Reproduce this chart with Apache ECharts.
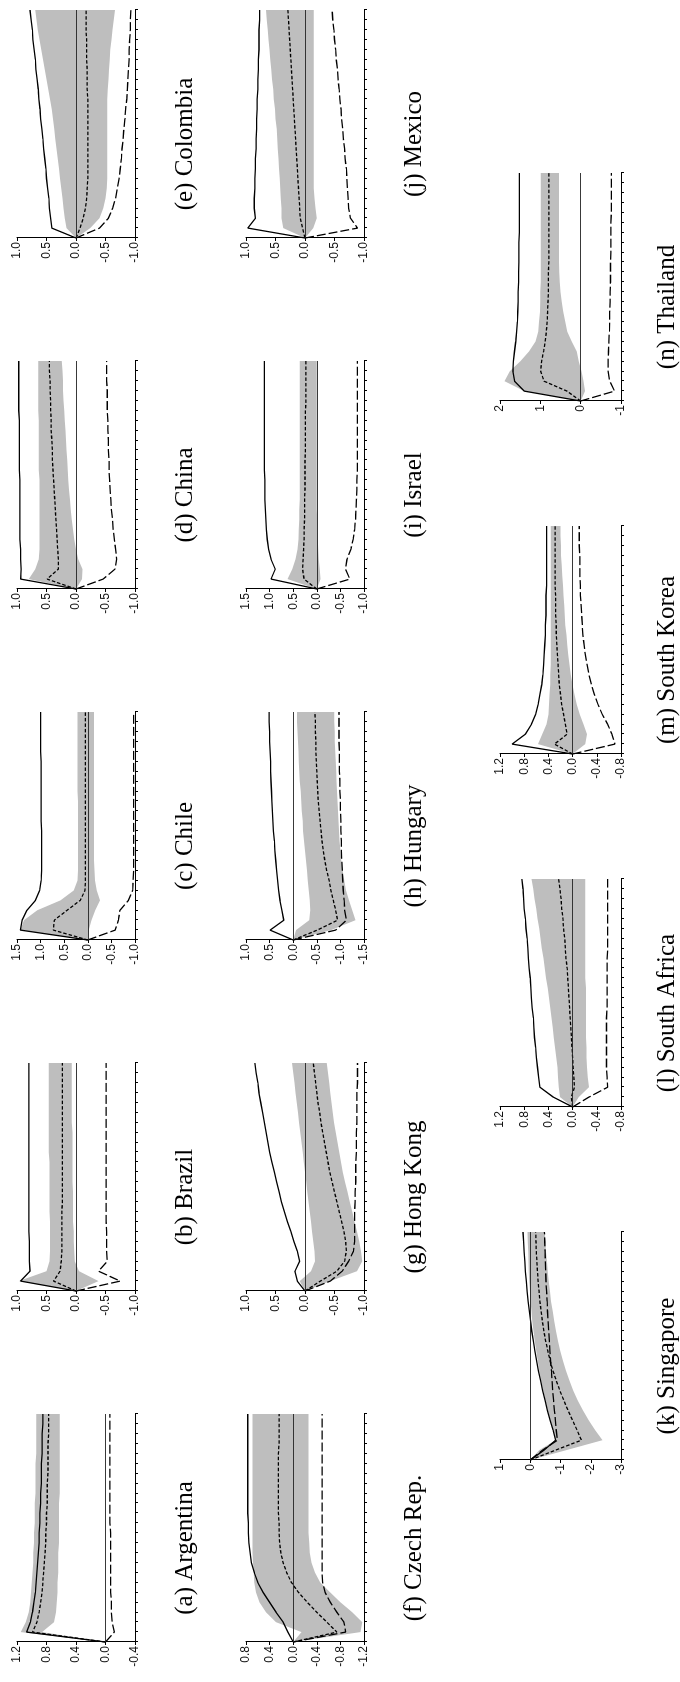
<!DOCTYPE html>
<html>
<head>
<meta charset="utf-8">
<script src="https://cdn.jsdelivr.net/npm/echarts@6/dist/echarts.min.js"></script>
<style>
  html, body { margin: 0; padding: 0; background: #fff; overflow: hidden; }
  /* the figure is drawn in landscape and turned a quarter to fit the page */
  #chart {
    position: absolute; left: 0; top: 0;
    width: 1682px; height: 680px;
    transform-origin: 0 0;
    transform: translate(0, 1682px) rotate(-90deg);
  }
</style>
</head>
<body>
<div id="chart"></div>
<script>
// horizon (quarters after the shock)
const horizon = [0, 1, 2, 3, 4, 5, 6, 7, 8, 9, 10, 11, 12, 13, 14, 15, 16, 17, 18, 19, 20, 21, 22, 23];

// (a) Argentina
const argentinaUpper  = [0, 1.07, 1.02, 0.99, 0.97, 0.95, 0.94, 0.93, 0.92, 0.91, 0.9, 0.9, 0.89, 0.89, 0.88, 0.88, 0.87, 0.87, 0.87, 0.86, 0.86, 0.86, 0.85, 0.85];
const argentinaMedian = [0, 0.99, 0.93, 0.9, 0.88, 0.86, 0.85, 0.84, 0.83, 0.82, 0.81, 0.81, 0.8, 0.8, 0.79, 0.79, 0.79, 0.78, 0.78, 0.78, 0.78, 0.77, 0.77, 0.77];
const argentinaLower  = [0, -0.12, -0.09, -0.08, -0.08, -0.07, -0.07, -0.07, -0.07, -0.07, -0.07, -0.07, -0.06, -0.06, -0.06, -0.06, -0.06, -0.06, -0.06, -0.06, -0.06, -0.06, -0.06, -0.06];
const argentinaBandHi = [0, 1.15, 1.08, 1.04, 1.02, 1.01, 1.0, 0.99, 0.98, 0.98, 0.97, 0.97, 0.96, 0.96, 0.96, 0.95, 0.95, 0.95, 0.95, 0.94, 0.94, 0.94, 0.94, 0.94];
const argentinaBandLo = [0, 0.86, 0.7, 0.67, 0.66, 0.65, 0.65, 0.64, 0.64, 0.64, 0.63, 0.63, 0.63, 0.63, 0.63, 0.62, 0.62, 0.62, 0.62, 0.62, 0.62, 0.62, 0.62, 0.62];

// (b) Brazil
const brazilUpper  = [0, 0.94, 0.78, 0.79, 0.79, 0.79, 0.8, 0.8, 0.8, 0.8, 0.8, 0.8, 0.8, 0.8, 0.8, 0.8, 0.8, 0.8, 0.8, 0.8, 0.8, 0.8, 0.8, 0.8];
const brazilMedian = [0, 0.38, 0.27, 0.25, 0.24, 0.24, 0.24, 0.24, 0.24, 0.23, 0.23, 0.23, 0.23, 0.23, 0.23, 0.23, 0.23, 0.23, 0.23, 0.23, 0.23, 0.23, 0.23, 0.23];
const brazilLower  = [0, -0.75, -0.38, -0.53, -0.52, -0.52, -0.52, -0.51, -0.51, -0.51, -0.51, -0.51, -0.51, -0.51, -0.51, -0.51, -0.51, -0.51, -0.51, -0.51, -0.51, -0.51, -0.51, -0.51];
const brazilBandHi = [0, 0.97, 0.5, 0.45, 0.44, 0.44, 0.44, 0.44, 0.45, 0.45, 0.45, 0.45, 0.45, 0.45, 0.46, 0.46, 0.46, 0.46, 0.46, 0.46, 0.46, 0.46, 0.46, 0.46];
const brazilBandLo = [0, -0.38, -0.05, 0.02, 0.03, 0.04, 0.04, 0.05, 0.05, 0.05, 0.05, 0.06, 0.06, 0.06, 0.06, 0.06, 0.06, 0.07, 0.07, 0.07, 0.07, 0.07, 0.07, 0.07];

// (c) Chile
const chileUpper  = [0, 1.43, 1.39, 1.29, 1.11, 1.02, 0.99, 0.98, 0.98, 0.98, 0.98, 0.98, 0.99, 0.99, 0.99, 0.99, 0.99, 0.99, 0.99, 1.0, 1.0, 1.0, 1.0, 1.0];
const chileMedian = [0, 0.73, 0.71, 0.44, 0.16, 0.06, 0.05, 0.05, 0.05, 0.05, 0.05, 0.05, 0.05, 0.05, 0.05, 0.05, 0.05, 0.05, 0.05, 0.05, 0.05, 0.05, 0.05, 0.05];
const chileLower  = [0, -0.58, -0.65, -0.68, -0.86, -0.95, -0.96, -0.97, -0.97, -0.97, -0.97, -0.97, -0.97, -0.97, -0.97, -0.97, -0.97, -0.97, -0.97, -0.97, -0.97, -0.97, -0.97, -0.97];
const chileBandHi = [0, 1.43, 1.35, 1.07, 0.58, 0.3, 0.22, 0.21, 0.21, 0.21, 0.21, 0.21, 0.21, 0.21, 0.21, 0.22, 0.22, 0.22, 0.22, 0.22, 0.22, 0.22, 0.22, 0.22];
const chileBandLo = [0, -0.02, -0.08, -0.16, -0.26, -0.19, -0.15, -0.14, -0.13, -0.13, -0.13, -0.13, -0.13, -0.13, -0.13, -0.13, -0.13, -0.13, -0.13, -0.13, -0.13, -0.13, -0.13, -0.13];

// (d) China
const chinaUpper  = [0, 0.94, 0.93, 0.94, 0.94, 0.95, 0.95, 0.95, 0.95, 0.95, 0.95, 0.95, 0.96, 0.96, 0.96, 0.96, 0.96, 0.96, 0.97, 0.97, 0.97, 0.97, 0.97, 0.97];
const chinaMedian = [0, 0.49, 0.3, 0.3, 0.31, 0.32, 0.33, 0.34, 0.35, 0.36, 0.37, 0.38, 0.39, 0.4, 0.4, 0.41, 0.42, 0.42, 0.43, 0.43, 0.44, 0.44, 0.45, 0.45];
const chinaLower  = [0, -0.46, -0.66, -0.69, -0.67, -0.65, -0.63, -0.62, -0.6, -0.59, -0.58, -0.57, -0.56, -0.56, -0.55, -0.55, -0.54, -0.54, -0.53, -0.53, -0.53, -0.52, -0.52, -0.52];
const chinaBandHi = [0, 0.8, 0.69, 0.63, 0.62, 0.62, 0.62, 0.62, 0.62, 0.62, 0.62, 0.62, 0.63, 0.63, 0.63, 0.63, 0.63, 0.63, 0.64, 0.64, 0.64, 0.64, 0.64, 0.64];
const chinaBandLo = [0, -0.1, -0.11, -0.04, 0, 0.03, 0.05, 0.07, 0.09, 0.1, 0.12, 0.13, 0.14, 0.15, 0.16, 0.17, 0.18, 0.19, 0.2, 0.21, 0.22, 0.22, 0.23, 0.24];

// (e) Colombia
const colombiaUpper  = [0, 0.41, 0.43, 0.45, 0.46, 0.48, 0.5, 0.51, 0.53, 0.55, 0.56, 0.58, 0.6, 0.61, 0.63, 0.64, 0.66, 0.68, 0.69, 0.71, 0.73, 0.74, 0.76, 0.78];
const colombiaMedian = [0, -0.07, -0.12, -0.16, -0.18, -0.19, -0.2, -0.2, -0.2, -0.2, -0.2, -0.2, -0.2, -0.2, -0.2, -0.19, -0.19, -0.19, -0.18, -0.18, -0.18, -0.17, -0.17, -0.17];
const colombiaLower  = [0, -0.4, -0.55, -0.62, -0.67, -0.7, -0.73, -0.75, -0.77, -0.78, -0.8, -0.81, -0.83, -0.84, -0.86, -0.87, -0.88, -0.89, -0.9, -0.9, -0.91, -0.92, -0.92, -0.93];
const colombiaBandHi = [0, 0.16, 0.19, 0.21, 0.23, 0.25, 0.27, 0.29, 0.31, 0.33, 0.35, 0.37, 0.39, 0.41, 0.44, 0.47, 0.5, 0.53, 0.56, 0.59, 0.62, 0.65, 0.67, 0.69];
const colombiaBandLo = [0, -0.24, -0.4, -0.46, -0.5, -0.52, -0.53, -0.53, -0.53, -0.53, -0.53, -0.53, -0.53, -0.53, -0.53, -0.54, -0.55, -0.56, -0.57, -0.58, -0.6, -0.62, -0.64, -0.66];

// (f) Czech Rep.
const czechUpper  = [0, 0.09, 0.17, 0.29, 0.4, 0.51, 0.6, 0.66, 0.71, 0.73, 0.75, 0.76, 0.76, 0.77, 0.77, 0.77, 0.77, 0.77, 0.77, 0.77, 0.77, 0.77, 0.77, 0.77];
const czechMedian = [0, -0.74, -0.57, -0.4, -0.24, -0.09, 0.03, 0.11, 0.17, 0.21, 0.23, 0.24, 0.24, 0.25, 0.25, 0.25, 0.25, 0.25, 0.25, 0.25, 0.24, 0.24, 0.24, 0.24];
const czechLower  = [0, -0.89, -0.86, -0.74, -0.63, -0.54, -0.5, -0.49, -0.49, -0.49, -0.49, -0.49, -0.49, -0.49, -0.49, -0.49, -0.49, -0.49, -0.49, -0.49, -0.49, -0.49, -0.49, -0.49];
const czechBandHi = [0, -0.14, 0.29, 0.46, 0.57, 0.63, 0.66, 0.67, 0.68, 0.69, 0.69, 0.69, 0.69, 0.69, 0.69, 0.69, 0.69, 0.69, 0.69, 0.69, 0.69, 0.69, 0.69, 0.69];
const czechBandLo = [0, -1.14, -1.17, -1.0, -0.8, -0.63, -0.46, -0.37, -0.31, -0.28, -0.27, -0.26, -0.26, -0.26, -0.26, -0.26, -0.26, -0.26, -0.26, -0.26, -0.26, -0.26, -0.26, -0.26];

// (g) Hong Kong
const hongkongUpper  = [0, 0.13, 0.17, 0.09, 0.13, 0.19, 0.24, 0.3, 0.35, 0.4, 0.44, 0.48, 0.52, 0.56, 0.6, 0.63, 0.66, 0.69, 0.72, 0.75, 0.78, 0.8, 0.83, 0.85];
const hongkongMedian = [0, -0.26, -0.54, -0.67, -0.7, -0.69, -0.66, -0.62, -0.58, -0.54, -0.5, -0.46, -0.42, -0.39, -0.36, -0.33, -0.3, -0.27, -0.25, -0.22, -0.2, -0.18, -0.16, -0.14];
const hongkongLower  = [0, -0.43, -0.63, -0.74, -0.82, -0.84, -0.84, -0.84, -0.84, -0.85, -0.85, -0.86, -0.86, -0.86, -0.87, -0.87, -0.87, -0.88, -0.88, -0.88, -0.88, -0.89, -0.89, -0.89];
const hongkongBandHi = [0, 0.09, -0.1, -0.17, -0.16, -0.14, -0.12, -0.1, -0.08, -0.06, -0.04, -0.02, 0, 0.02, 0.04, 0.06, 0.08, 0.1, 0.12, 0.14, 0.16, 0.18, 0.2, 0.22];
const hongkongBandLo = [0, -0.43, -0.88, -0.97, -0.95, -0.92, -0.88, -0.84, -0.8, -0.76, -0.72, -0.68, -0.64, -0.61, -0.58, -0.55, -0.52, -0.49, -0.47, -0.45, -0.43, -0.41, -0.39, -0.37];

// (h) Hungary
const hungaryUpper  = [0, 0.49, 0.2, 0.24, 0.28, 0.31, 0.33, 0.35, 0.37, 0.39, 0.4, 0.42, 0.43, 0.44, 0.45, 0.46, 0.47, 0.48, 0.48, 0.49, 0.5, 0.5, 0.51, 0.51];
const hungaryMedian = [0, -0.51, -0.94, -0.9, -0.85, -0.8, -0.76, -0.71, -0.67, -0.64, -0.61, -0.59, -0.57, -0.55, -0.53, -0.52, -0.51, -0.5, -0.49, -0.48, -0.48, -0.47, -0.47, -0.46];
const hungaryLower  = [0, -0.9, -1.13, -1.09, -1.08, -1.06, -1.05, -1.04, -1.03, -1.02, -1.02, -1.01, -1.01, -1.0, -1.0, -0.99, -0.99, -0.98, -0.98, -0.98, -0.97, -0.97, -0.97, -0.97];
const hungaryBandHi = [0, -0.06, -0.34, -0.36, -0.35, -0.33, -0.31, -0.29, -0.27, -0.25, -0.23, -0.21, -0.2, -0.18, -0.17, -0.16, -0.14, -0.13, -0.12, -0.11, -0.1, -0.09, -0.08, -0.08];
const hungaryBandLo = [0, -0.8, -1.32, -1.25, -1.18, -1.12, -1.08, -1.05, -1.02, -1.0, -0.98, -0.97, -0.96, -0.95, -0.94, -0.93, -0.92, -0.91, -0.9, -0.89, -0.88, -0.88, -0.87, -0.87];

// (i) Israel
const israelUpper  = [0, 0.97, 0.88, 0.97, 1.02, 1.05, 1.07, 1.08, 1.09, 1.1, 1.1, 1.1, 1.11, 1.11, 1.11, 1.11, 1.11, 1.11, 1.11, 1.11, 1.11, 1.11, 1.11, 1.11];
const israelMedian = [0, 0.27, 0.3, 0.29, 0.28, 0.27, 0.27, 0.26, 0.26, 0.26, 0.25, 0.25, 0.25, 0.25, 0.24, 0.24, 0.24, 0.24, 0.24, 0.23, 0.23, 0.23, 0.23, 0.23];
const israelLower  = [0, -0.7, -0.61, -0.64, -0.72, -0.77, -0.8, -0.82, -0.83, -0.84, -0.85, -0.85, -0.86, -0.86, -0.86, -0.86, -0.86, -0.86, -0.86, -0.86, -0.86, -0.86, -0.86, -0.86];
const israelBandHi = [0, 0.62, 0.52, 0.45, 0.41, 0.39, 0.38, 0.37, 0.37, 0.36, 0.36, 0.36, 0.36, 0.36, 0.36, 0.36, 0.36, 0.36, 0.36, 0.36, 0.36, 0.36, 0.36, 0.36];
const israelBandLo = [0, -0.08, -0.06, -0.04, -0.03, -0.02, -0.01, -0.01, 0, 0, 0, 0, 0, 0, 0, 0, 0, 0, 0, 0, 0, 0, 0, 0];

// (j) Mexico
const mexicoUpper  = [0, 0.97, 0.84, 0.86, 0.86, 0.85, 0.85, 0.84, 0.84, 0.83, 0.83, 0.82, 0.82, 0.81, 0.81, 0.8, 0.8, 0.79, 0.79, 0.78, 0.78, 0.78, 0.77, 0.77];
const mexicoMedian = [0, 0.04, 0.08, 0.09, 0.1, 0.11, 0.12, 0.13, 0.14, 0.15, 0.16, 0.17, 0.18, 0.19, 0.2, 0.21, 0.22, 0.23, 0.24, 0.25, 0.26, 0.27, 0.28, 0.29];
const mexicoLower  = [0, -0.89, -0.77, -0.74, -0.73, -0.72, -0.71, -0.7, -0.68, -0.67, -0.65, -0.64, -0.62, -0.61, -0.59, -0.58, -0.56, -0.55, -0.53, -0.52, -0.5, -0.49, -0.47, -0.46];
const mexicoBandHi = [0, 0.37, 0.4, 0.4, 0.41, 0.42, 0.43, 0.44, 0.45, 0.46, 0.47, 0.48, 0.5, 0.51, 0.53, 0.54, 0.56, 0.57, 0.59, 0.6, 0.62, 0.63, 0.65, 0.66];
const mexicoBandLo = [0, -0.14, -0.2, -0.18, -0.16, -0.15, -0.15, -0.15, -0.15, -0.15, -0.15, -0.15, -0.15, -0.15, -0.15, -0.15, -0.15, -0.15, -0.15, -0.15, -0.15, -0.15, -0.15, -0.15];

// (k) Singapore
const singaporeUpper  = [0, -0.46, -0.84, -0.76, -0.66, -0.57, -0.49, -0.41, -0.34, -0.27, -0.21, -0.15, -0.1, -0.05, -0.01, 0.03, 0.07, 0.1, 0.13, 0.16, 0.18, 0.2, 0.22, 0.24];
const singaporeMedian = [0, -0.84, -1.69, -1.55, -1.4, -1.25, -1.11, -0.98, -0.86, -0.75, -0.66, -0.58, -0.51, -0.45, -0.4, -0.36, -0.32, -0.29, -0.26, -0.24, -0.22, -0.2, -0.19, -0.18];
const singaporeLower  = [0, -0.41, -0.9, -0.86, -0.83, -0.8, -0.77, -0.74, -0.72, -0.7, -0.67, -0.65, -0.63, -0.61, -0.59, -0.57, -0.56, -0.54, -0.52, -0.51, -0.5, -0.49, -0.48, -0.47];
const singaporeBandHi = [0, -0.3, -0.84, -0.77, -0.67, -0.58, -0.5, -0.43, -0.36, -0.3, -0.25, -0.2, -0.15, -0.11, -0.07, -0.04, -0.01, 0.01, 0.03, 0.05, 0.06, 0.07, 0.08, 0.09];
const singaporeBandLo = [0, -1.2, -2.39, -2.15, -1.93, -1.74, -1.57, -1.42, -1.3, -1.18, -1.08, -0.99, -0.92, -0.85, -0.79, -0.74, -0.69, -0.65, -0.61, -0.58, -0.55, -0.52, -0.5, -0.48];

// (l) South Africa
const southafricaUpper  = [0, 0.32, 0.54, 0.56, 0.58, 0.6, 0.61, 0.63, 0.64, 0.65, 0.67, 0.68, 0.69, 0.7, 0.72, 0.73, 0.74, 0.75, 0.77, 0.78, 0.8, 0.81, 0.82, 0.84];
const southafricaMedian = [0, 0.02, -0.03, -0.02, -0.01, 0.0, 0.01, 0.02, 0.03, 0.04, 0.05, 0.06, 0.07, 0.08, 0.09, 0.11, 0.12, 0.13, 0.15, 0.16, 0.18, 0.19, 0.21, 0.23];
const southafricaLower  = [0, -0.27, -0.58, -0.57, -0.56, -0.56, -0.56, -0.56, -0.56, -0.56, -0.57, -0.57, -0.57, -0.57, -0.57, -0.57, -0.58, -0.58, -0.58, -0.58, -0.58, -0.58, -0.58, -0.58];
const southafricaBandHi = [0, 0.21, 0.23, 0.24, 0.25, 0.27, 0.29, 0.31, 0.33, 0.35, 0.37, 0.39, 0.41, 0.44, 0.46, 0.48, 0.51, 0.53, 0.55, 0.58, 0.6, 0.63, 0.65, 0.68];
const southafricaBandLo = [0, -0.1, -0.27, -0.25, -0.24, -0.23, -0.23, -0.22, -0.22, -0.22, -0.22, -0.22, -0.22, -0.21, -0.21, -0.21, -0.21, -0.21, -0.21, -0.21, -0.21, -0.21, -0.21, -0.21];

// (m) South Korea
const southkoreaUpper  = [0, 1.0, 0.78, 0.68, 0.61, 0.57, 0.54, 0.51, 0.49, 0.48, 0.47, 0.46, 0.45, 0.45, 0.44, 0.44, 0.44, 0.43, 0.43, 0.43, 0.43, 0.43, 0.43, 0.43];
const southkoreaMedian = [0, 0.3, 0.09, 0.12, 0.15, 0.18, 0.2, 0.22, 0.23, 0.24, 0.25, 0.26, 0.27, 0.27, 0.28, 0.28, 0.28, 0.29, 0.29, 0.29, 0.29, 0.29, 0.29, 0.29];
const southkoreaLower  = [0, -0.7, -0.65, -0.58, -0.49, -0.42, -0.36, -0.31, -0.27, -0.24, -0.21, -0.19, -0.17, -0.16, -0.15, -0.14, -0.13, -0.13, -0.12, -0.12, -0.12, -0.11, -0.11, -0.11];
const southkoreaBandHi = [0, 0.57, 0.5, 0.43, 0.4, 0.39, 0.38, 0.37, 0.37, 0.36, 0.36, 0.36, 0.36, 0.36, 0.36, 0.36, 0.36, 0.36, 0.36, 0.36, 0.36, 0.36, 0.36, 0.36];
const southkoreaBandLo = [0, -0.21, -0.24, -0.18, -0.12, -0.07, -0.03, 0.0, 0.03, 0.05, 0.07, 0.09, 0.1, 0.12, 0.13, 0.14, 0.15, 0.16, 0.17, 0.18, 0.19, 0.19, 0.2, 0.2];

// (n) Thailand
const thailandUpper  = [0, 1.4, 1.64, 1.68, 1.67, 1.64, 1.61, 1.59, 1.57, 1.56, 1.55, 1.55, 1.54, 1.54, 1.53, 1.53, 1.53, 1.52, 1.52, 1.52, 1.52, 1.52, 1.52, 1.52];
const thailandMedian = [0, 0.34, 0.91, 0.99, 0.97, 0.92, 0.88, 0.85, 0.83, 0.82, 0.81, 0.8, 0.8, 0.8, 0.79, 0.79, 0.79, 0.79, 0.79, 0.79, 0.79, 0.79, 0.79, 0.79];
const thailandLower  = [0, -0.84, -0.72, -0.68, -0.68, -0.69, -0.7, -0.71, -0.72, -0.72, -0.73, -0.73, -0.74, -0.74, -0.74, -0.75, -0.75, -0.75, -0.75, -0.76, -0.76, -0.76, -0.76, -0.76];
const thailandBandHi = [0, 1.4, 1.89, 1.76, 1.5, 1.28, 1.12, 1.05, 1.03, 1.01, 1.0, 1.0, 0.99, 0.99, 0.99, 0.99, 0.99, 0.99, 0.99, 0.99, 0.99, 0.99, 0.99, 0.99];
const thailandBandLo = [0, -0.11, -0.07, -0.02, 0.05, 0.1, 0.22, 0.33, 0.38, 0.43, 0.47, 0.5, 0.52, 0.53, 0.54, 0.54, 0.54, 0.54, 0.54, 0.54, 0.54, 0.54, 0.54, 0.54];

// y-axis ranges and tick steps of each panel
const panels = [
  { label: '(a) Argentina',    row: 0, col: 0, yMin: -0.4, yMax: 1.2, yStep: 0.4, upper: argentinaUpper,   median: argentinaMedian,   lower: argentinaLower,   hi: argentinaBandHi,   lo: argentinaBandLo },
  { label: '(b) Brazil',       row: 0, col: 1, yMin: -1,   yMax: 1,   yStep: 0.5, upper: brazilUpper,      median: brazilMedian,      lower: brazilLower,      hi: brazilBandHi,      lo: brazilBandLo },
  { label: '(c) Chile',        row: 0, col: 2, yMin: -1,   yMax: 1.5, yStep: 0.5, upper: chileUpper,       median: chileMedian,       lower: chileLower,       hi: chileBandHi,       lo: chileBandLo },
  { label: '(d) China',        row: 0, col: 3, yMin: -1,   yMax: 1,   yStep: 0.5, upper: chinaUpper,       median: chinaMedian,       lower: chinaLower,       hi: chinaBandHi,       lo: chinaBandLo },
  { label: '(e) Colombia',     row: 0, col: 4, yMin: -1,   yMax: 1,   yStep: 0.5, upper: colombiaUpper,    median: colombiaMedian,    lower: colombiaLower,    hi: colombiaBandHi,    lo: colombiaBandLo },
  { label: '(f) Czech Rep.',   row: 1, col: 0, yMin: -1.2, yMax: 0.8, yStep: 0.4, upper: czechUpper,       median: czechMedian,       lower: czechLower,       hi: czechBandHi,       lo: czechBandLo },
  { label: '(g) Hong Kong',    row: 1, col: 1, yMin: -1,   yMax: 1,   yStep: 0.5, upper: hongkongUpper,    median: hongkongMedian,    lower: hongkongLower,    hi: hongkongBandHi,    lo: hongkongBandLo },
  { label: '(h) Hungary',      row: 1, col: 2, yMin: -1.5, yMax: 1,   yStep: 0.5, upper: hungaryUpper,     median: hungaryMedian,     lower: hungaryLower,     hi: hungaryBandHi,     lo: hungaryBandLo },
  { label: '(i) Israel',       row: 1, col: 3, yMin: -1,   yMax: 1.5, yStep: 0.5, upper: israelUpper,      median: israelMedian,      lower: israelLower,      hi: israelBandHi,      lo: israelBandLo },
  { label: '(j) Mexico',       row: 1, col: 4, yMin: -1,   yMax: 1,   yStep: 0.5, upper: mexicoUpper,      median: mexicoMedian,      lower: mexicoLower,      hi: mexicoBandHi,      lo: mexicoBandLo },
  { label: '(k) Singapore',    row: 2, col: 0, yMin: -3,   yMax: 1,   yStep: 1,   upper: singaporeUpper,   median: singaporeMedian,   lower: singaporeLower,   hi: singaporeBandHi,   lo: singaporeBandLo },
  { label: '(l) South Africa', row: 2, col: 1, yMin: -0.8, yMax: 1.2, yStep: 0.4, upper: southafricaUpper, median: southafricaMedian, lower: southafricaLower, hi: southafricaBandHi, lo: southafricaBandLo },
  { label: '(m) South Korea',  row: 2, col: 2, yMin: -0.8, yMax: 1.2, yStep: 0.4, upper: southkoreaUpper,  median: southkoreaMedian,  lower: southkoreaLower,  hi: southkoreaBandHi,  lo: southkoreaBandLo },
  { label: '(n) Thailand',     row: 2, col: 3, yMin: -1,   yMax: 2,   yStep: 1,   upper: thailandUpper,    median: thailandMedian,    lower: thailandLower,    hi: thailandBandHi,    lo: thailandBandLo }
];

// layout in the landscape frame
const rowTop = [17, 246, 500];
const rowHeight = [118, 118, 121];
const labelY = [185, 414, 667];
const plotWidth = 228;
function plotLeft(row, col) {
  return row < 2 ? 40 + 351 * col : 222 + 353 * col;
}

const myChart = echarts.init(document.getElementById('chart'), null, { renderer: 'canvas' });

const grid = [], xAxis = [], yAxis = [], series = [], graphic = [];
const pairs = arr => arr.map((v, i) => [horizon[i], v]);

// gray band as one polygon: hi edge out, lo edge back
function bandItem(params, api, rows) {
  if (params.dataIndex !== 0) return null;
  const top = rows.map(r => api.coord([r[0], r[2]]));
  const bottom = rows.slice().reverse().map(r => api.coord([r[0], r[1]]));
  return {
    type: 'polygon',
    shape: { points: top.concat(bottom) },
    style: { fill: '#bebebe', stroke: null }
  };
}

panels.forEach((p, i) => {
  const left = plotLeft(p.row, p.col);
  grid.push({ left: left, top: rowTop[p.row], width: plotWidth, height: rowHeight[p.row], containLabel: false });
  xAxis.push({
    gridIndex: i, type: 'value', min: 0, max: horizon[horizon.length - 1], interval: 1,
    axisLine: { onZero: false, lineStyle: { color: '#000', width: 1 } },
    axisTick: { length: 3, lineStyle: { color: '#000', width: 1 } },
    axisLabel: { show: false },
    splitLine: { show: false }
  });
  const decimals = p.yStep < 1 ? 1 : 0;
  yAxis.push({
    gridIndex: i, type: 'value', min: p.yMin, max: p.yMax, interval: p.yStep,
    axisLine: { show: true, lineStyle: { color: '#000', width: 1 } },
    axisTick: { show: true, length: 3, lineStyle: { color: '#000', width: 1 } },
    axisLabel: {
      fontFamily: 'Liberation Sans', fontSize: 12, color: '#111', margin: 4,
      formatter: v => (Math.abs(v) < 1e-9 ? 0 : v).toFixed(decimals)
    },
    splitLine: { show: false }
  });

  const bandRows = horizon.map((t, k) => [t, p.lo[k], p.hi[k]]);
  series.push({
    type: 'custom', xAxisIndex: i, yAxisIndex: i, silent: true, clip: true,
    data: bandRows,
    encode: { x: 0, y: [1, 2] },
    renderItem: (params, api) => bandItem(params, api, bandRows)
  });
  series.push({
    type: 'line', xAxisIndex: i, yAxisIndex: i, data: pairs(p.upper), symbol: 'none', silent: true,
    lineStyle: { color: '#000', width: 1.3, type: 'solid' },
    markLine: {
      silent: true, symbol: 'none', label: { show: false },
      lineStyle: { color: '#222', width: 0.9, type: 'solid' },
      data: [{ yAxis: 0 }]
    }
  });
  series.push({
    type: 'line', xAxisIndex: i, yAxisIndex: i, data: pairs(p.median), symbol: 'none', silent: true,
    lineStyle: { color: '#000', width: 1.3, type: [3.5, 2] }
  });
  series.push({
    type: 'line', xAxisIndex: i, yAxisIndex: i, data: pairs(p.lower), symbol: 'none', silent: true,
    lineStyle: { color: '#000', width: 1.3, type: [9, 3] }
  });

  graphic.push({
    type: 'text', x: left + plotWidth / 2 - 20, y: labelY[p.row],
    style: {
      text: p.label, fill: '#000',
      font: '25px "Liberation Serif", "DejaVu Serif", serif',
      align: 'center', verticalAlign: 'middle'
    }
  });
});

myChart.setOption({
  animation: false,
  backgroundColor: '#fff',
  grid: grid,
  xAxis: xAxis,
  yAxis: yAxis,
  series: series,
  graphic: graphic
});
</script>
</body>
</html>
